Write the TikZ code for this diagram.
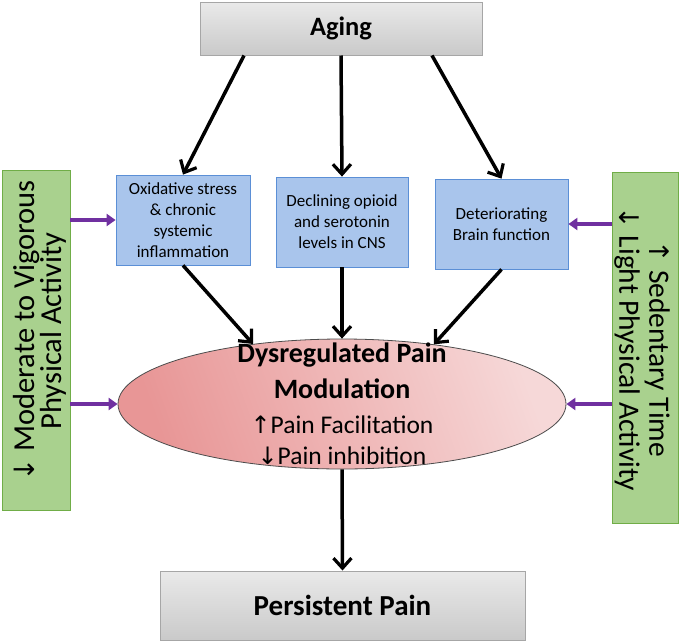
\documentclass[tikz,border=0pt]{standalone}
\usepackage{fontspec}
\setmainfont{Carlito}
\newfontfamily\arrowfont{DejaVu Sans}
\usetikzlibrary{arrows.meta,shapes.geometric}
\definecolor{grayborder}{HTML}{A6A6A6}
\definecolor{bluefill}{HTML}{A9C5EC}
\definecolor{blueborder}{HTML}{5B8FD6}
\definecolor{greenfill}{HTML}{A9D18E}
\definecolor{greenborder}{HTML}{70AD47}
\definecolor{purp}{HTML}{7030A0}
\definecolor{pinkdark}{HTML}{E89696}
\definecolor{pinklight}{HTML}{F6D8D8}
\newcommand{\uparr}[1]{{\arrowfont\fontsize{#1}{20}\selectfont↑}}
\newcommand{\dnarr}[1]{{\arrowfont\fontsize{#1}{20}\selectfont↓}}
\tikzset{
  graybox/.style={draw=grayborder, line width=1pt, top color=gray!17, bottom color=gray!42, inner sep=0pt},
  bluebox/.style={draw=blueborder, line width=0.8pt, fill=bluefill, inner sep=0pt, align=center, font=\fontsize{17}{21}\selectfont},
  greenbox/.style={draw=greenborder, line width=0.8pt, fill=greenfill, inner sep=0pt},
  blk/.style={line width=3.5pt, -{Straight Barb[length=10pt,width=18pt,line width=3.2pt]}},
  purparrow/.style={draw=purp, line width=3.5pt, -{Triangle[length=9pt,width=12pt]}},
}
\begin{document}
\begin{tikzpicture}[x=1pt,y=-1pt]
\useasboundingbox[fill=white] (0,0) rectangle (680,643);
% boxes
\node[graybox, minimum width=282pt, minimum height=53pt, font=\bfseries\fontsize{26.5}{30}\selectfont] (aging) at (341,28.5) {Aging};
\node[graybox, minimum width=365pt, minimum height=69pt, font=\bfseries\fontsize{29}{32}\selectfont] (persist) at (342.5,605.5) {Persistent Pain};
\node[greenbox, minimum width=68pt, minimum height=340pt] (lg) at (36,340) {};
\node[rotate=90, align=center, inner sep=0pt, font=\fontsize{30.5}{27}\selectfont] (lgt) at (40,331) {\dnarr{28} Moderate to Vigorous\\Physical Activity};
\node[greenbox, minimum width=66pt, minimum height=351pt] (rg) at (645,347.5) {};
\node[rotate=-90, align=center, inner sep=0pt, font=\fontsize{29.5}{30}\selectfont] (rgt) at (642,349) {\uparr{27} Sedentary Time\\\dnarr{27} Light Physical Activity};
\node[bluebox, minimum width=134pt, minimum height=90pt] (b1) at (183,220) {Oxidative stress\\\& chronic\\systemic\\inflammation};
\node[bluebox, minimum width=132pt, minimum height=90pt] (b2) at (342,222) {Declining opioid\\and serotonin\\levels in CNS};
\node[bluebox, minimum width=133pt, minimum height=90pt] (b3) at (501.5,224) {Deteriorating\\Brain function};
\node[ellipse, draw=black!70, line width=0.8pt, minimum width=448pt, minimum height=130pt, inner sep=0pt,
      shading=axis, left color=pinkdark, right color=pinklight, shading angle=110] (ell) at (342,404) {};
\node[align=center, inner sep=0pt, font=\bfseries\fontsize{28}{36}\selectfont] (ellt1) at (342,371) {Dysregulated Pain\\Modulation};
\node[align=center, inner sep=0pt, font=\fontsize{25.5}{31}\selectfont] (ellt2) at (342,440) {\uparr{24}Pain Facilitation\\\dnarr{24}Pain inhibition};
% black arrows
\draw[blk] ([xshift=-97pt]aging.south) -- (b1.north);
\draw[blk] (aging.south) -- (b2.north);
\draw[blk] ([xshift=91pt]aging.south) -- (b3.north);
\draw[blk] (b1.south) -- (ell.146);
\draw[blk] (b2.south) -- (ell.north);
\draw[blk] (b3.south) -- (ell.33);
\draw[blk] (ell.south) -- (persist.north);
% purple arrows
\draw[purparrow] (lg.east |- b1.west) -- (b1.west);
\draw[purparrow] (lg.east |- ell.west) -- (ell.west);
\draw[purparrow] (rg.west |- b3.east) -- (b3.east);
\draw[purparrow] (rg.west |- ell.east) -- (ell.east);
\end{tikzpicture}
\end{document}
